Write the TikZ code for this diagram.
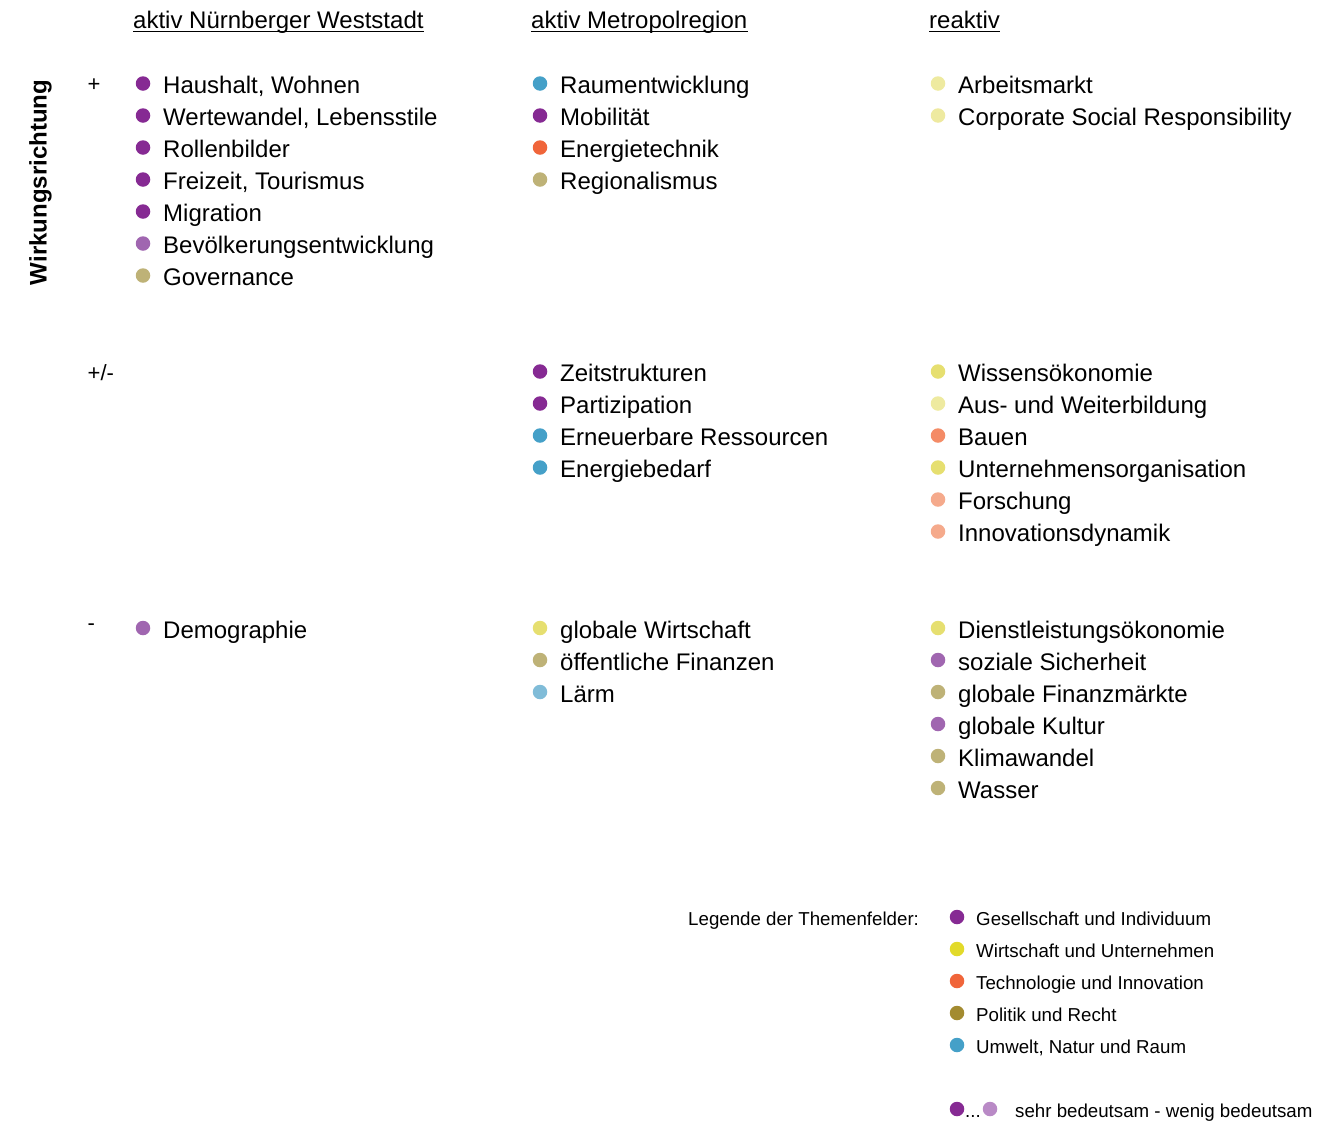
\documentclass[tikz,border=0pt]{standalone}
\usepackage{fontspec}
\setmainfont{Liberation Sans}
\usepackage{tikz}
\usetikzlibrary{positioning}
\definecolor{gesA}{HTML}{862A93}
\definecolor{gesB}{HTML}{A066B0}
\definecolor{gesC}{HTML}{B98AC6}
\definecolor{wirA}{HTML}{E2DA2A}
\definecolor{wirB}{HTML}{E6DF70}
\definecolor{wirC}{HTML}{EEEAA0}
\definecolor{tecA}{HTML}{F0653A}
\definecolor{tecB}{HTML}{F48B66}
\definecolor{tecC}{HTML}{F5AA8C}
\definecolor{polA}{HTML}{A38B30}
\definecolor{polB}{HTML}{BEB277}
\definecolor{umwA}{HTML}{45A0C8}
\definecolor{umwB}{HTML}{80BCD8}

\begin{document}
\begin{tikzpicture}[x=1pt,y=-1pt,
    item/.style={anchor=base west,inner sep=0pt,font=\fontsize{24}{28}\selectfont},
    small/.style={anchor=base west,inner sep=0pt,font=\fontsize{18.7}{22}\selectfont},
    sign/.style={anchor=base west,inner sep=0pt,font=\fontsize{22}{26}\selectfont},
    dot/.style={circle,inner sep=0pt,minimum size=14.5pt}]
  \useasboundingbox (0,0) rectangle (1344,1122);
  % column heads
  \foreach \x/\t [count=\n] in {133/aktiv Nürnberger Weststadt,531/aktiv Metropolregion,929/reaktiv} {
    \node[item] (head\n) at (\x,28.5) {\t};
    \draw[line width=1.3pt] ([yshift=-2.8pt]head\n.base west) -- ([yshift=-2.8pt]head\n.base east);
  }
  \node[font=\bfseries\fontsize{24}{28}\selectfont,rotate=90,inner sep=0pt] (axis) at (40.5,182.5) {Wirkungsrichtung};
  \node[sign] (plus) at (87.5,91) {+};
  \node[sign] (plusminus) at (87.5,380) {+/-};
  \node[sign] (minus) at (87.5,630) {-};
  % row +
  \foreach \c/\t [count=\i from 0] in {gesA/{Haushalt, Wohnen},gesA/{Wertewandel, Lebensstile},gesA/Rollenbilder,gesA/{Freizeit, Tourismus},gesA/Migration,gesB/Bevölkerungsentwicklung,polB/Governance} {
    \node[dot,fill=\c] (pa\i) at (143,83.5+32*\i) {};
    \node[item] (pat\i) at (163,93.5+32*\i) {\t};
  }
  \foreach \c/\t [count=\i from 0] in {umwA/Raumentwicklung,gesA/Mobilität,tecA/Energietechnik,polB/Regionalismus} {
    \node[dot,fill=\c] (pb\i) at (540,83.5+32*\i) {};
    \node[item] (pbt\i) at (560,93.5+32*\i) {\t};
  }
  \foreach \c/\t [count=\i from 0] in {wirC/Arbeitsmarkt,wirC/Corporate Social Responsibility} {
    \node[dot,fill=\c] (pc\i) at (938,83.5+32*\i) {};
    \node[item] (pct\i) at (958,93.5+32*\i) {\t};
  }
  % row +/-
  \foreach \c/\t [count=\i from 0] in {gesA/Zeitstrukturen,gesA/Partizipation,umwA/Erneuerbare Ressourcen,umwA/Energiebedarf} {
    \node[dot,fill=\c] (nb\i) at (540,371.5+32*\i) {};
    \node[item] (nbt\i) at (560,381.5+32*\i) {\t};
  }
  \foreach \c/\t [count=\i from 0] in {wirB/Wissensökonomie,wirC/Aus- und Weiterbildung,tecB/Bauen,wirB/Unternehmensorganisation,tecC/Forschung,tecC/Innovationsdynamik} {
    \node[dot,fill=\c] (nc\i) at (938,371.5+32*\i) {};
    \node[item] (nct\i) at (958,381.5+32*\i) {\t};
  }
  % row -
  \node[dot,fill=gesB] (ma0) at (143,628) {};
  \node[item] (mat0) at (163,638) {Demographie};
  \foreach \c/\t [count=\i from 0] in {wirB/globale Wirtschaft,polB/öffentliche Finanzen,umwB/Lärm} {
    \node[dot,fill=\c] (mb\i) at (540,628+32*\i) {};
    \node[item] (mbt\i) at (560,638+32*\i) {\t};
  }
  \foreach \c/\t [count=\i from 0] in {wirB/Dienstleistungsökonomie,gesB/soziale Sicherheit,polB/globale Finanzmärkte,gesB/globale Kultur,polB/Klimawandel,polB/Wasser} {
    \node[dot,fill=\c] (mc\i) at (938,628+32*\i) {};
    \node[item] (mct\i) at (958,638+32*\i) {\t};
  }
  % legend
  \node[small] (legtitle) at (688,925.5) {Legende der Themenfelder:};
  \foreach \c/\t [count=\i from 0] in {gesA/Gesellschaft und Individuum,wirA/Wirtschaft und Unternehmen,tecA/Technologie und Innovation,polA/Politik und Recht,umwA/{Umwelt, Natur und Raum}} {
    \node[dot,fill=\c] (ld\i) at (957,917+32*\i) {};
    \node[small] (lt\i) at (976,925.5+32*\i) {\t};
  }
  \node[dot,fill=gesA] (strong) at (957,1109) {};
  \node[small] (dots) at (965,1117.5) {...};
  \node[dot,fill=gesC] (weak) at (990,1109) {};
  \node[small] (scale) at (1015,1117.5) {sehr bedeutsam - wenig bedeutsam};
\end{tikzpicture}
\end{document}
